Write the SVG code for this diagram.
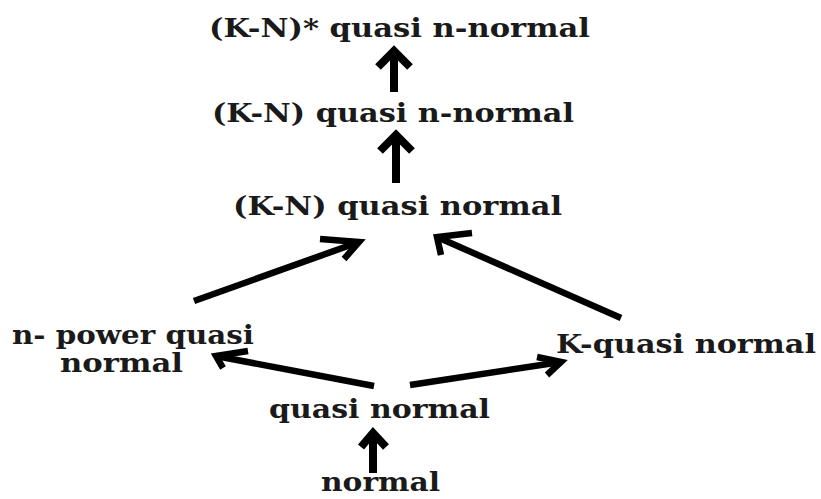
<svg xmlns="http://www.w3.org/2000/svg" width="821" height="499" viewBox="0 0 821 499">
<style>
text{font-family:"DejaVu Serif","Liberation Serif",serif;font-weight:bold;font-size:26px;fill:#1a1a1a}
.c line,.c polyline{stroke:#000;stroke-width:6.5;fill:none;stroke-linecap:butt;stroke-linejoin:miter}
.c .v{stroke-width:8}
</style>
<rect width="821" height="499" fill="#fff"/>
<g id="n-kn-star"><text x="209" y="37" textLength="381" lengthAdjust="spacingAndGlyphs">(K-N)* quasi n-normal</text></g>
<g id="n-kn-qnn"><text x="212" y="122" textLength="362" lengthAdjust="spacingAndGlyphs">(K-N) quasi n-normal</text></g>
<g id="n-kn-qn"><text x="233" y="215" textLength="329" lengthAdjust="spacingAndGlyphs">(K-N) quasi normal</text></g>
<g id="n-npower"><text x="12" y="344" textLength="242" lengthAdjust="spacingAndGlyphs">n- power quasi</text><text x="60" y="372" textLength="123" lengthAdjust="spacingAndGlyphs">normal</text></g>
<g id="n-kquasi"><text x="556" y="353" textLength="260" lengthAdjust="spacingAndGlyphs">K-quasi normal</text></g>
<g id="n-quasi"><text x="269" y="418" textLength="221" lengthAdjust="spacingAndGlyphs">quasi normal</text></g>
<g id="n-normal"><text x="321" y="491" textLength="119" lengthAdjust="spacingAndGlyphs">normal</text></g>
<g class="c" id="connectors">
<line class="v" x1="394" y1="92" x2="394" y2="52"/><polyline class="v" points="378,67 394,51 410,67"/>
<line class="v" x1="396" y1="183" x2="396" y2="134"/><polyline class="v" points="380,151 396,135 412,151"/>
<line x1="194" y1="301" x2="359" y2="242"/><polyline points="320,239 359,242 344,259"/>
<line x1="621" y1="318" x2="437" y2="237"/><polyline points="472,233 437,237 441,255"/>
<line x1="374" y1="386" x2="216" y2="356"/><polyline points="248,351 216,356 223,368"/>
<line x1="410" y1="385" x2="561" y2="362"/><polyline points="537,357 561,362 547,375"/>
<line class="v" x1="373" y1="473" x2="373" y2="434"/><polyline class="v" points="361,447 373,433 386,447"/>
</g>
</svg>
